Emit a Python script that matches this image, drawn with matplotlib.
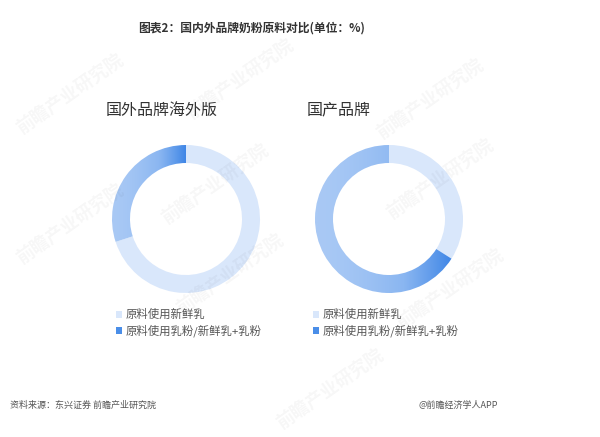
import matplotlib.pyplot as plt
import numpy as np
from matplotlib.patches import Patch
import matplotlib.colors as mcolors

plt.rcParams['font.family'] = ['Noto Sans CJK SC', 'DejaVu Sans']

# data
groups = ['国外品牌海外版', '国产品牌']
labels = ['原料使用新鲜乳', '原料使用乳粉/新鲜乳+乳粉']
fresh = [70, 34]
powder = [30, 66]

light_col = '#d9e7fb'
grad_lo = '#a9c9f5'
grad_hi = '#3f86e6'
cmap = mcolors.LinearSegmentedColormap.from_list('g', [grad_lo, '#8ab6f1', grad_hi])

W, H = 600, 437
fig = plt.figure(figsize=(6, 4.37), dpi=100)
fig.patch.set_facecolor('white')

def px(x, y):
    return x / W, 1 - y / H

# faint watermarks
for (wx, wy) in [(70, 95), (240, 80), (430, 100), (215, 185), (440, 180),
                 (230, 275), (450, 290), (70, 225), (330, 390)]:
    fx, fy = px(wx, wy)
    fig.text(fx, fy, '前瞻产业研究院', rotation=35, fontsize=13, color='#000000',
             alpha=0.035, ha='center', va='center', fontweight='bold')

fig.text(*px(252, 28), '图表2：国内外品牌奶粉原料对比(单位：%)', fontsize=8.5,
         fontweight='bold', color='#333333', ha='center', va='center')

centers = [(186, 219), (389, 219)]
title_x = [162, 339]
legend_x = [116, 313]
R = 74
half = 82

for i in range(2):
    cx, cy = centers[i]
    ax = fig.add_axes([(cx - half) / W, 1 - (cy + half) / H, 2 * half / W, 2 * half / H])
    lim = half / R
    ax.set_xlim(-lim, lim)
    ax.set_ylim(-lim, lim)
    ax.set_aspect('equal')
    ax.axis('off')
    wedges, _ = ax.pie([fresh[i], powder[i]], radius=1, startangle=90, counterclock=False,
                       colors=[light_col, grad_hi],
                       wedgeprops=dict(width=18 / R, linewidth=0))
    w = wedges[1]
    # horizontal gradient clipped to the wedge
    path = w.get_path().transformed(w.get_patch_transform())
    xs = path.vertices[:, 0]
    x0, x1 = xs.min(), xs.max()
    t = np.linspace(0, 1, 256) ** 1.6
    img = ax.imshow(t[np.newaxis, :], cmap=cmap, extent=[x0, x1, -1, 1],
                    aspect='auto', zorder=w.get_zorder(), interpolation='bicubic')
    img.set_clip_path(w)
    w.set_facecolor('none')
    ax.set_xlim(-lim, lim)
    ax.set_ylim(-lim, lim)

    fig.text(*px(title_x[i], 110), groups[i], fontsize=11.5, color='#333333',
             ha='center', va='center')

    handles = [Patch(facecolor=light_col, edgecolor='none'),
               Patch(facecolor='#4a8ee8', edgecolor='none')]
    fig.legend(handles, labels, loc='upper left', bbox_to_anchor=px(legend_x[i], 309),
               frameon=False, fontsize=8.2, handlelength=0.55, handleheight=0.55,
               handletextpad=0.3, labelspacing=0.4, labelcolor='#555555',
               borderaxespad=0, borderpad=0)

fig.text(*px(10, 405), '资料来源：东兴证券 前瞻产业研究院', fontsize=6.5, color='#555555',
         ha='left', va='center')
fig.text(*px(498, 405), '@前瞻经济学人APP', fontsize=6.5, color='#555555',
         ha='right', va='center')

fig.savefig('out.png', dpi=100, facecolor='white')
